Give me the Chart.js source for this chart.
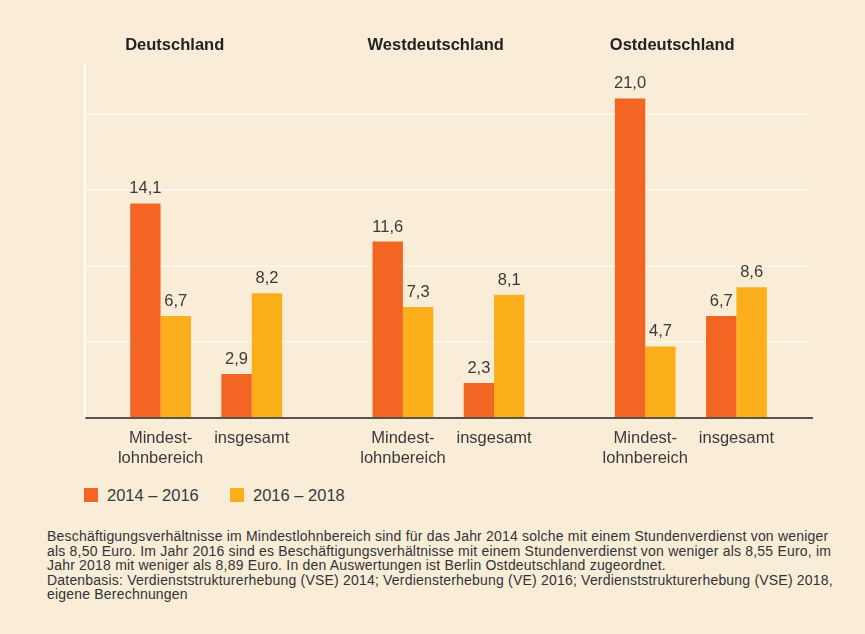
<!DOCTYPE html>
<html lang="de">
<head>
<meta charset="utf-8">
<script src="https://cdn.jsdelivr.net/npm/chart.js@4.4.1/dist/chart.umd.min.js"></script>
<style>
  html, body { margin: 0; padding: 0; }
  body { width: 865px; height: 634px; background: #f9edd8; position: relative; overflow: hidden;
         font-family: "Liberation Sans", Arial, Helvetica, sans-serif; color: #3a3a3a; }
  #wrap { position: absolute; left: 0; top: 0; width: 865px; height: 480px; }
  #legend { position: absolute; left: 84px; top: 484px; height: 22px; font-size: 16.5px; }
  .item { position: absolute; top: 0; white-space: nowrap; line-height: 22px; }
  .sw { position: absolute; top: 4px; left: 0; width: 14px; height: 14px; }
  .lt { position: absolute; left: 23px; top: 0; }
  #note { position: absolute; left: 47px; top: 529px; font-size: 14px; letter-spacing: 0.2px; line-height: 14.5px; color: #333; white-space: nowrap; }
</style>
</head>
<body>
<div id="wrap"><canvas id="c" width="865" height="480"></canvas></div>
<div id="legend"></div>
<div id="note">Beschäftigungsverhältnisse im Mindestlohnbereich sind für das Jahr 2014 solche mit einem Stundenverdienst von weniger<br>als 8,50 Euro. Im Jahr 2016 sind es Beschäftigungsverhältnisse mit einem Stundenverdienst von weniger als 8,55 Euro, im<br>Jahr 2018 mit weniger als 8,89 Euro. In den Auswertungen ist Berlin Ostdeutschland zugeordnet.<br>Datenbasis: Verdienststrukturerhebung (VSE) 2014; Verdiensterhebung (VE) 2016; Verdienststrukturerhebung (VSE) 2018,<br>eigene Berechnungen</div>
<script>
// ---- data ----
const groups = ['Deutschland', 'Westdeutschland', 'Ostdeutschland'];
const subCategories = [['Mindest-', 'lohnbereich'], ['insgesamt']];
const seriesNames = ['2014 – 2016', '2016 – 2018'];
const mindest_2014_2016 = [14.1, 11.6, 21.0];
const mindest_2016_2018 = [6.7, 7.3, 4.7];
const gesamt_2014_2016 = [2.9, 2.3, 6.7];
const gesamt_2016_2018 = [8.2, 8.1, 8.6];
const yTicksStep = 5;
const yMax = 23.2;

// ---- style ----
const colors = ['#f26522', '#fbaf1b'];
const textColor = '#3a3a3a';
const fontFamily = '"Liberation Sans", Arial, Helvetica, sans-serif';

const datasets = [
  { label: seriesNames[0], sub: 0, data: mindest_2014_2016, backgroundColor: colors[0] },
  { label: seriesNames[1], sub: 0, data: mindest_2016_2018, backgroundColor: colors[1] },
  { label: '', sub: -1, data: groups.map(() => null), backgroundColor: 'rgba(0,0,0,0)' },
  { label: seriesNames[0], sub: 1, data: gesamt_2014_2016, backgroundColor: colors[0] },
  { label: seriesNames[1], sub: 1, data: gesamt_2016_2018, backgroundColor: colors[1] }
].map(d => Object.assign(d, { borderWidth: 0, barPercentage: 1.0, categoryPercentage: 0.627 }));

const fmt = v => v.toFixed(1).replace('.', ',');

const annotatePlugin = {
  id: 'annotate',
  afterDatasetsDraw(chart) {
    const ctx = chart.ctx;
    ctx.save();
    // value labels
    ctx.fillStyle = textColor;
    ctx.font = '16.5px ' + fontFamily;
    ctx.textAlign = 'center';
    ctx.textBaseline = 'alphabetic';
    chart.data.datasets.forEach((ds, di) => {
      if (ds.sub < 0) return;
      const meta = chart.getDatasetMeta(di);
      meta.data.forEach((bar, i) => {
        const v = ds.data[i];
        if (v == null) return;
        ctx.fillText(fmt(v), bar.x, bar.y - 10);
      });
    });
    // group titles (left aligned near first bar)
    const m0 = chart.getDatasetMeta(0);
    ctx.font = 'bold 16.5px ' + fontFamily;
    ctx.fillStyle = '#222';
    ctx.textAlign = 'left';
    groups.forEach((g, i) => {
      const bar = m0.data[i];
      ctx.fillText(g, bar.x - bar.width / 2 - 5, 50);
    });
    // sub category labels below axis
    ctx.font = '16.5px ' + fontFamily;
    ctx.fillStyle = textColor;
    ctx.textAlign = 'center';
    const pairs = [[0, 1], [3, 4]];
    groups.forEach((g, i) => {
      pairs.forEach((p, s) => {
        const a = chart.getDatasetMeta(p[0]).data[i];
        const b = chart.getDatasetMeta(p[1]).data[i];
        const cx = (a.x + a.width / 2 + b.x - b.width / 2) / 2;
        subCategories[s].forEach((line, li) => {
          ctx.fillText(line, cx, chart.chartArea.bottom + 25 + li * 20);
        });
      });
    });
    ctx.restore();
  }
};

new Chart(document.getElementById('c'), {
  type: 'bar',
  data: { labels: groups, datasets },
  plugins: [annotatePlugin],
  options: {
    responsive: false,
    animation: false,
    layout: { padding: { left: 85, right: 53, top: 65, bottom: 62 } },
    plugins: { legend: { display: false }, tooltip: { enabled: false } },
    scales: {
      x: {
        ticks: { display: false },
        grid: { display: false, drawTicks: false },
        border: { display: true, color: '#58534d', width: 2 }
      },
      y: {
        min: 0, max: yMax,
        ticks: { display: false, stepSize: yTicksStep, includeBounds: false },
        grid: {
          drawTicks: false,
          color: c => (c.tick && c.tick.value > 0 && c.tick.value % yTicksStep === 0) ? '#ffffff' : 'rgba(0,0,0,0)',
          lineWidth: 1.8
        },
        border: { display: true, color: '#ffffff', width: 1.5, dash: [1.8, 2.2] }
      }
    }
  }
});

// legend (HTML) from series
const legend = document.getElementById('legend');
const legendX = [0, 146];
seriesNames.forEach((name, i) => {
  const it = document.createElement('div');
  it.className = 'item';
  it.style.left = legendX[i] + 'px';
  it.innerHTML = '<span class="sw" style="background:' + colors[i] + '"></span><span class="lt">' + name + '</span>';
  legend.appendChild(it);
});
</script>
</body>
</html>
